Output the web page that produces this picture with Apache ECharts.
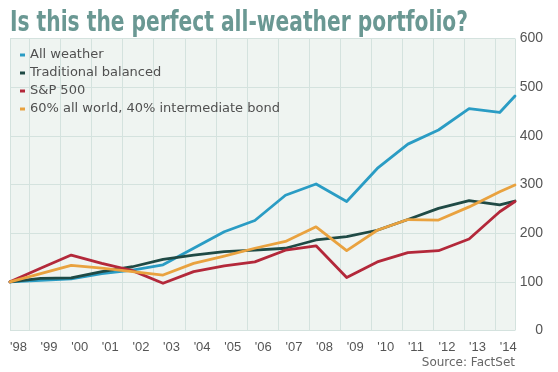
<!DOCTYPE html>
<html>
<head>
<meta charset="utf-8">
<script src="https://cdn.jsdelivr.net/npm/echarts@6/dist/echarts.min.js"></script>
<style>
html,body{margin:0;padding:0;background:#fff;}
#chart{width:558px;height:372px;}
</style>
</head>
<body>
<div id="chart"></div>
<script>
// Observation points (years; last point is mid-2014)
var years = [1998, 1999, 2000, 2001, 2002, 2003, 2004, 2005, 2006, 2007, 2008, 2009, 2010, 2011, 2012, 2013, 2014, 2014.5];
var allWeather = [100, 103, 106, 117, 124, 135, 169, 203, 226, 278, 301, 265, 333, 383, 412, 456, 448, 482];
var traditional = [100, 107, 108, 121, 131, 146, 155, 162, 165, 169, 186, 193, 206, 228, 251, 267, 258, 266];
var sp500 = [100, 128, 155, 138, 123, 97, 121, 133, 141, 165, 174, 109, 141, 160, 164, 188, 244, 265];
var mix6040 = [100, 117, 134, 128, 121, 114, 138, 153, 169, 183, 213, 164, 206, 228, 227, 254, 285, 299];
var seriesNames = ['All weather', 'Traditional balanced', 'S&P 500', '60% all world, 40% intermediate bond'];
var seriesColors = ['#2a9cc4', '#1f4a45', '#b3283a', '#e9a23f'];
var yTicks = [0, 100, 200, 300, 400, 500, 600];
var titleText = 'Is this the perfect all-weather portfolio?';

function pairs(vals) { return years.map(function (y, i) { return [y, vals[i]]; }); }
var allVals = [allWeather, traditional, sp500, mix6040];

var titleFont = 'bold 28px "DejaVu Sans Condensed", "DejaVu Sans", sans-serif';
var ctx = document.createElement('canvas').getContext('2d');
ctx.font = titleFont;
var titleScale = 458 / ctx.measureText(titleText).width;

var chart = echarts.init(document.getElementById('chart'), null, {renderer: 'canvas'});
var lab = '"Liberation Sans", Arial, sans-serif';

var option = {
  animation: false,
  backgroundColor: '#ffffff',
  title: [{
    text: 'Source: FactSet',
    right: 43, top: 357, padding: 0,
    textStyle: {fontFamily: '"DejaVu Sans", sans-serif', fontWeight: 'normal', fontSize: 12, color: '#666'}
  }],
  graphic: [{
    type: 'text', x: 10, y: 10, scaleX: titleScale, scaleY: 1,
    style: {text: titleText, font: titleFont, fill: '#6a9893', verticalAlign: 'top'}
  }],
  legend: {
    orient: 'vertical', left: 20, top: 48, padding: 0,
    icon: 'rect', itemWidth: 5, itemHeight: 3, itemGap: 4,
    textStyle: {fontFamily: '"DejaVu Sans", sans-serif', fontSize: 13, color: '#505050', lineHeight: 14},
    data: seriesNames
  },
  grid: {left: 10, right: 43, top: 38.5, bottom: 41.5, show: true, backgroundColor: '#eff4f1', borderWidth: 0},
  xAxis: [{
    type: 'value', min: 1998, max: 2014.5, interval: 1,
    axisLine: {show: false}, axisTick: {show: false}, splitLine: {show: false},
    axisLabel: {
      align: 'left', margin: 10, fontFamily: lab, fontSize: 13, color: '#555',
      formatter: function (v) { return (v % 1 === 0 && v <= 2014) ? "'" + String(v).slice(2) : ''; }
    }
  }, {
    type: 'value', min: -0.62, max: 15.62, splitNumber: 16, position: 'top',
    axisLine: {show: false}, axisTick: {show: false}, axisLabel: {show: false},
    splitLine: {show: true, lineStyle: {color: '#d4e2de', width: 1}}
  }],
  yAxis: {
    type: 'value', position: 'right', min: yTicks[0], max: yTicks[yTicks.length - 1], interval: 100,
    axisLine: {show: false}, axisTick: {show: false},
    splitLine: {show: true, lineStyle: {color: '#d4e2de', width: 1}},
    axisLabel: {align: 'right', margin: 28, fontFamily: lab, fontSize: 14, color: '#555'}
  },
  series: seriesNames.map(function (n, i) {
    return {
      name: n, type: 'line', xAxisIndex: 0, showSymbol: false, symbol: 'none',
      color: seriesColors[i],
      lineStyle: {width: 2.8, color: seriesColors[i], cap: 'round', join: 'round'},
      data: pairs(allVals[i])
    };
  })
};
chart.setOption(option);
</script>
</body>
</html>
